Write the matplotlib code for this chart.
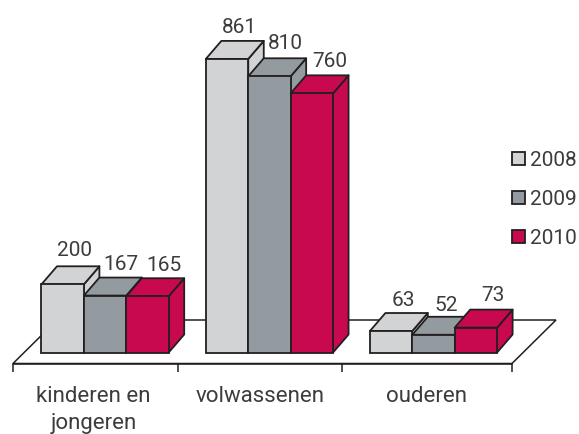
import matplotlib
matplotlib.use('Agg')
import matplotlib.pyplot as plt
from matplotlib.patches import Patch

categories = ['kinderen en\njongeren', 'volwassenen', 'ouderen']
years = ['2008', '2009', '2010']
v2008 = [200, 861, 63]
v2009 = [167, 810, 52]
v2010 = [165, 760, 73]
series = [v2008, v2009, v2010]
colors = ['#d1d3d4', '#939ba1', '#c8094f']

edge = '#231f20'
text_col = '#3c3c3c'
plt.rcParams['font.family'] = ['Roboto', 'DejaVu Sans']
lw = 1.3

W, H = 579, 434
fig = plt.figure(figsize=(W / 100, H / 100), dpi=100)
# axes runs along the front edge of the floor
ax = fig.add_axes([13 / W, (H - 363.5) / H, 499 / W, 343.5 / H])

px_x = 164.7        # pixels per group
px_y = 0.341        # pixels per value unit
ax.set_xlim(0, 499 / px_x)
ax.set_ylim(-11 / px_y, (343.5 - 11) / px_y)

bar_w = 42.4 / px_x
dx = 15.5 / px_x
dy = 18 / px_y
starts = [0.173, 1.171, 2.167]
floor_dx = 44 / px_x
floor_y0 = -11 / px_y
floor_dy = 43.5 / px_y

# floor
ax.fill([0, 499 / px_x, 499 / px_x + floor_dx, floor_dx],
        [floor_y0, floor_y0, floor_y0 + floor_dy, floor_y0 + floor_dy],
        facecolor='white', edgecolor=edge, lw=1.1, zorder=1, clip_on=False)

# small shifts of the value labels in pixels
label_dx = [[12, 16, 16], [12, 16, 18], [12, 13, 17]]
label_dy = [[28, 26, 25], [26, 27, 26], [25, 24, 27]]

z = 2
for g in range(len(categories)):
    for s in range(len(series)):
        v = series[s][g]
        x0 = starts[g] + s * bar_w
        x1 = x0 + bar_w
        c = colors[s]
        ax.fill([x1, x1 + dx, x1 + dx, x1], [0, dy, v + dy, v],
                facecolor=c, edgecolor=edge, lw=lw, zorder=z, joinstyle='round', clip_on=False)
        ax.fill([x0, x1, x1 + dx, x0 + dx], [v, v, v + dy, v + dy],
                facecolor=c, edgecolor=edge, lw=lw, zorder=z, joinstyle='round', clip_on=False)
        ax.bar(x0, v, bar_w, align='edge', color=c, edgecolor=edge, lw=lw, zorder=z, clip_on=False)
        ax.annotate(str(v), (x0 + bar_w / 2, v), xytext=(label_dx[g][s], label_dy[g][s]),
                    textcoords='offset pixels', ha='center', va='baseline',
                    fontsize=15, color=text_col, zorder=20, annotation_clip=False)
        z += 1

for sp in ['top', 'left', 'right']:
    ax.spines[sp].set_visible(False)
ax.spines['bottom'].set_color(edge)
ax.spines['bottom'].set_linewidth(1.1)
ax.patch.set_visible(False)
ax.set_yticks([])
ax.set_xticks([0, 1, 2, 499 / px_x])
ax.set_xticklabels([])
ax.tick_params(axis='x', which='major', length=5.4, width=1.1, color=edge)
ax.set_xticks([0.49, 1.5, 2.51], minor=True)
ax.set_xticklabels(categories, minor=True, fontsize=16, color=text_col, linespacing=1.38)
ax.tick_params(axis='x', which='minor', length=0, pad=16)

handles = [Patch(facecolor=c, edgecolor=edge, lw=lw) for c in colors]
fig.legend(handles, years, loc='upper left', bbox_to_anchor=(512 / W, 1 - 151 / H),
           frameon=False, fontsize=15, labelcolor=text_col, handlelength=0.6, handleheight=0.6,
           handletextpad=0.28, labelspacing=0.95, borderpad=0, borderaxespad=0)

fig.savefig('out.png', dpi=100)
